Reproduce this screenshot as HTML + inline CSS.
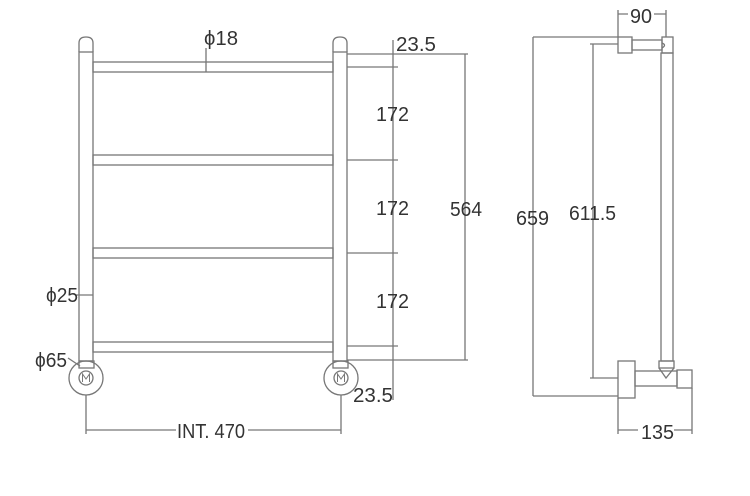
<!DOCTYPE html>
<html><head><style>
html,body{margin:0;padding:0;background:#fff;width:750px;height:496px;overflow:hidden}
svg{display:block}
text{font-family:"Liberation Sans",sans-serif;font-size:20px;fill:#333}
</style></head><body>
<svg width="750" height="496" viewBox="0 0 750 496" fill="none" stroke="#777" stroke-width="1.3">
<rect x="79" y="52" width="14" height="309"/>
<rect x="333" y="52" width="14" height="309"/>
<path d="M79 52 V43 Q79 37 86 37 Q93 37 93 43 V52"/>
<path d="M333 52 V43 Q333 37 340 37 Q347 37 347 43 V52"/>
<rect x="93" y="62" width="240" height="10"/>
<rect x="93" y="155" width="240" height="10"/>
<rect x="93" y="248" width="240" height="10"/>
<rect x="93" y="342" width="240" height="10"/>
<line x1="206" y1="48" x2="206" y2="72"/>
<rect x="79" y="361" width="15" height="7"/>
<circle cx="86" cy="378" r="17"/><circle cx="86" cy="378" r="7"/>
<path d="M82.5 382 V374 L86 379 L89.5 374 V382" stroke-width="1"/>
<rect x="333" y="361" width="15" height="7"/>
<circle cx="341" cy="378" r="17"/><circle cx="341" cy="378" r="7"/>
<path d="M337.5 382 V374 L341 379 L344.5 374 V382" stroke-width="1"/>
<line x1="68" y1="358" x2="80" y2="366"/>
<line x1="76" y1="295" x2="93" y2="295"/>
<line x1="347" y1="54" x2="468" y2="54"/>
<line x1="347" y1="360" x2="468" y2="360"/>
<line x1="347" y1="67" x2="398" y2="67"/>
<line x1="347" y1="160" x2="398" y2="160"/>
<line x1="347" y1="253" x2="398" y2="253"/>
<line x1="347" y1="346" x2="398" y2="346"/>
<line x1="393" y1="40" x2="393" y2="400"/>
<line x1="465" y1="54" x2="465" y2="360"/>
<line x1="86" y1="395" x2="86" y2="434"/>
<line x1="341" y1="395" x2="341" y2="434"/>
<line x1="86" y1="430" x2="341" y2="430"/>
<line x1="533" y1="37" x2="533" y2="396"/>
<line x1="533" y1="37" x2="618" y2="37"/>
<line x1="533" y1="396" x2="618" y2="396"/>
<line x1="593" y1="44" x2="593" y2="378"/>
<line x1="590" y1="44" x2="618" y2="44"/>
<line x1="590" y1="378" x2="618" y2="378"/>
<rect x="618" y="37" width="14" height="16"/>
<rect x="632" y="40" width="30" height="10"/>
<rect x="662" y="37" width="11" height="16"/>
<path d="M662 43 Q667 45 662 48"/>
<rect x="661" y="53" width="12" height="308"/>
<rect x="659" y="361" width="15" height="7"/>
<path d="M659 368 L666 378 L674 368"/>
<rect x="618" y="361" width="17" height="37"/>
<rect x="635" y="371" width="42" height="15"/>
<rect x="677" y="370" width="15" height="18"/>
<line x1="618" y1="10" x2="618" y2="37"/>
<line x1="666" y1="10" x2="666" y2="37"/>
<line x1="618" y1="14" x2="666" y2="14"/>
<line x1="618" y1="398" x2="618" y2="434"/>
<line x1="692" y1="388" x2="692" y2="434"/>
<line x1="618" y1="430" x2="692" y2="430"/>
<g stroke="none">
<rect x="195" y="27" width="46" height="18" fill="#fff"/>
<text x="204" y="45" textLength="34" lengthAdjust="spacingAndGlyphs">ϕ18</text>
<text x="396" y="51" textLength="40" lengthAdjust="spacingAndGlyphs">23.5</text>
<text x="376" y="121" textLength="33" lengthAdjust="spacingAndGlyphs">172</text>
<text x="376" y="215" textLength="33" lengthAdjust="spacingAndGlyphs">172</text>
<text x="376" y="308" textLength="33" lengthAdjust="spacingAndGlyphs">172</text>
<text x="450" y="216" textLength="32" lengthAdjust="spacingAndGlyphs">564</text>
<text x="46" y="302" textLength="32" lengthAdjust="spacingAndGlyphs">ϕ25</text>
<text x="35" y="367" textLength="32" lengthAdjust="spacingAndGlyphs">ϕ65</text>
<text x="353" y="402" textLength="40" lengthAdjust="spacingAndGlyphs">23.5</text>
<rect x="176" y="420" width="72" height="20" fill="#fff"/>
<text x="177" y="438" textLength="68" lengthAdjust="spacingAndGlyphs">INT. 470</text>
<text x="516" y="225" textLength="33" lengthAdjust="spacingAndGlyphs">659</text>
<text x="569" y="220" textLength="47" lengthAdjust="spacingAndGlyphs">611.5</text>
<rect x="628" y="5" width="26" height="18" fill="#fff"/>
<text x="630" y="23" textLength="22" lengthAdjust="spacingAndGlyphs">90</text>
<rect x="638" y="421" width="36" height="18" fill="#fff"/>
<text x="641" y="439" textLength="33" lengthAdjust="spacingAndGlyphs">135</text>
</g>
</svg>
</body></html>
